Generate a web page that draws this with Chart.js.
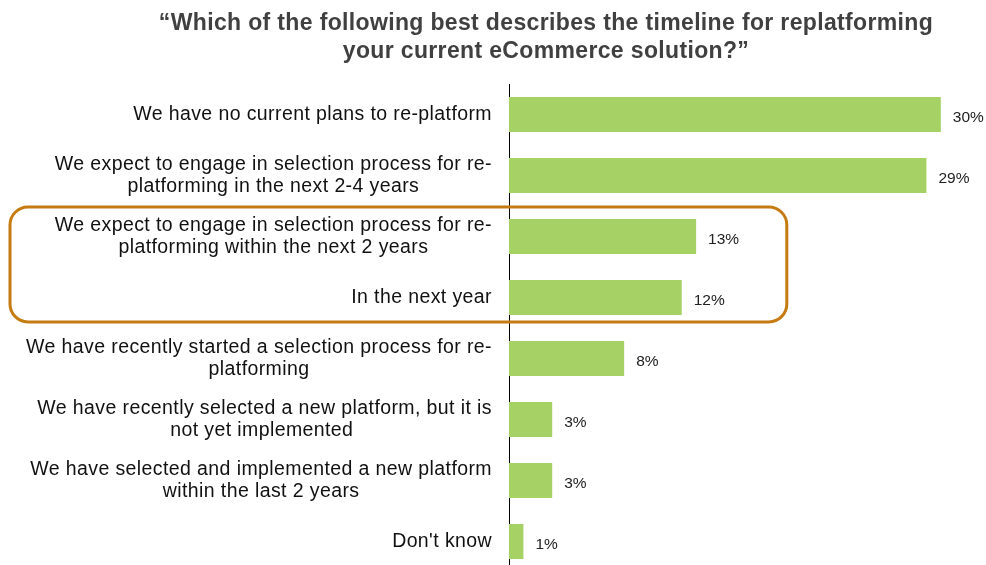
<!DOCTYPE html>
<html>
<head>
<meta charset="utf-8">
<script src="https://cdn.jsdelivr.net/npm/chart.js@4.4.1/dist/chart.umd.min.js"></script>
<style>
  html, body { margin: 0; padding: 0; background: #fff; }
  #wrap { position: relative; width: 986px; height: 565px; overflow: hidden; }
  #title {
    position: absolute; left: 106px; top: 8px; width: 880px;
    text-align: center; font: bold 23px "Liberation Sans", Arial, sans-serif;
    letter-spacing: 0.35px; line-height: 28px; color: #404040; z-index: 2;
  }
  #box { position: absolute; left: 0; top: 0; width: 986px; height: 590px; }
</style>
</head>
<body>
<div id="wrap">
  <div id="title">“Which of the following best describes the timeline for replatforming<br>your current eCommerce solution?”</div>
  <div id="box"><canvas id="myChart"></canvas></div>
</div>
<script>
// answers, each one split in the lines it is printed on
const answers = [
  ["We have no current plans to re-platform"],
  ["We expect to engage in selection process for re-", "platforming in the next 2-4 years"],
  ["We expect to engage in selection process for re-", "platforming within the next 2 years"],
  ["In the next year"],
  ["We have recently started a selection process for re-", "platforming"],
  [" We have recently selected a new platform, but it is", "not yet implemented"],
  ["We have selected and implemented a new platform", "within the last 2 years"],
  ["Don't know"]
];
const shares = [30, 29, 13, 12, 8, 3, 3, 1];
// rows framed together (the near-term group)
const framedRows = [2, 3];

const barColor = "#a6d265";
const frameColor = "#c57b12";

// draws answer text, percentages and the frame round the near-term rows
const labelsPlugin = {
  id: "labels",
  afterDraw(chart) {
    const ctx = chart.ctx;
    const yScale = chart.scales.y;
    const xScale = chart.scales.x;
    const axisX = chart.chartArea.left;
    ctx.save();

    // category text, lines centred in a block that ends before the axis
    ctx.font = '19.5px "Liberation Sans", Arial, sans-serif';
    ctx.letterSpacing = "0.4px";
    ctx.fillStyle = "#111";
    ctx.textBaseline = "middle";
    ctx.textAlign = "center";
    const lineH = 21.5;
    answers.forEach((lines, i) => {
      const cy = yScale.getPixelForValue(i);
      const w = Math.max(...lines.map(l => ctx.measureText(l).width));
      const cx = axisX - 17 - w / 2;
      lines.forEach((l, j) => {
        ctx.fillText(l, cx, cy + (j - (lines.length - 1) / 2) * lineH);
      });
    });

    // value labels past the bar end
    ctx.font = '15.5px "Liberation Sans", Arial, sans-serif';
    ctx.letterSpacing = "0px";
    ctx.fillStyle = "#222";
    ctx.textAlign = "left";
    const meta = chart.getDatasetMeta(0);
    meta.data.forEach((bar, i) => {
      ctx.fillText(shares[i] + "%", bar.x + 12, bar.y + 3);
    });

    // rounded frame
    const step = yScale.getPixelForValue(1) - yScale.getPixelForValue(0);
    const top = yScale.getPixelForValue(framedRows[0]) - step / 2 + 1;
    const bottom = yScale.getPixelForValue(framedRows[framedRows.length - 1]) + step * 0.4;
    const left = 10;
    const right = xScale.getPixelForValue(19.3);
    ctx.strokeStyle = frameColor;
    ctx.lineWidth = 3;
    ctx.beginPath();
    ctx.roundRect(left, top, right - left, bottom - top, 18);
    ctx.stroke();
    ctx.restore();
  }
};

new Chart("myChart", {
  type: "bar",
  data: {
    labels: answers,
    datasets: [{
      data: shares,
      backgroundColor: barColor,
      barPercentage: 0.575,
      categoryPercentage: 1
    }]
  },
  options: {
    indexAxis: "y",
    responsive: true,
    maintainAspectRatio: false,
    animation: false,
    layout: { padding: { left: 509, top: 84, bottom: 18, right: 2 } },
    plugins: {
      legend: { display: false },
      tooltip: { enabled: false }
    },
    scales: {
      x: {
        display: false,
        min: 0,
        max: 33
      },
      y: {
        grid: { display: false, drawTicks: false },
        border: { display: true, color: "#000", width: 1 },
        ticks: { display: false }
      }
    }
  },
  plugins: [labelsPlugin]
});
</script>
</body>
</html>
